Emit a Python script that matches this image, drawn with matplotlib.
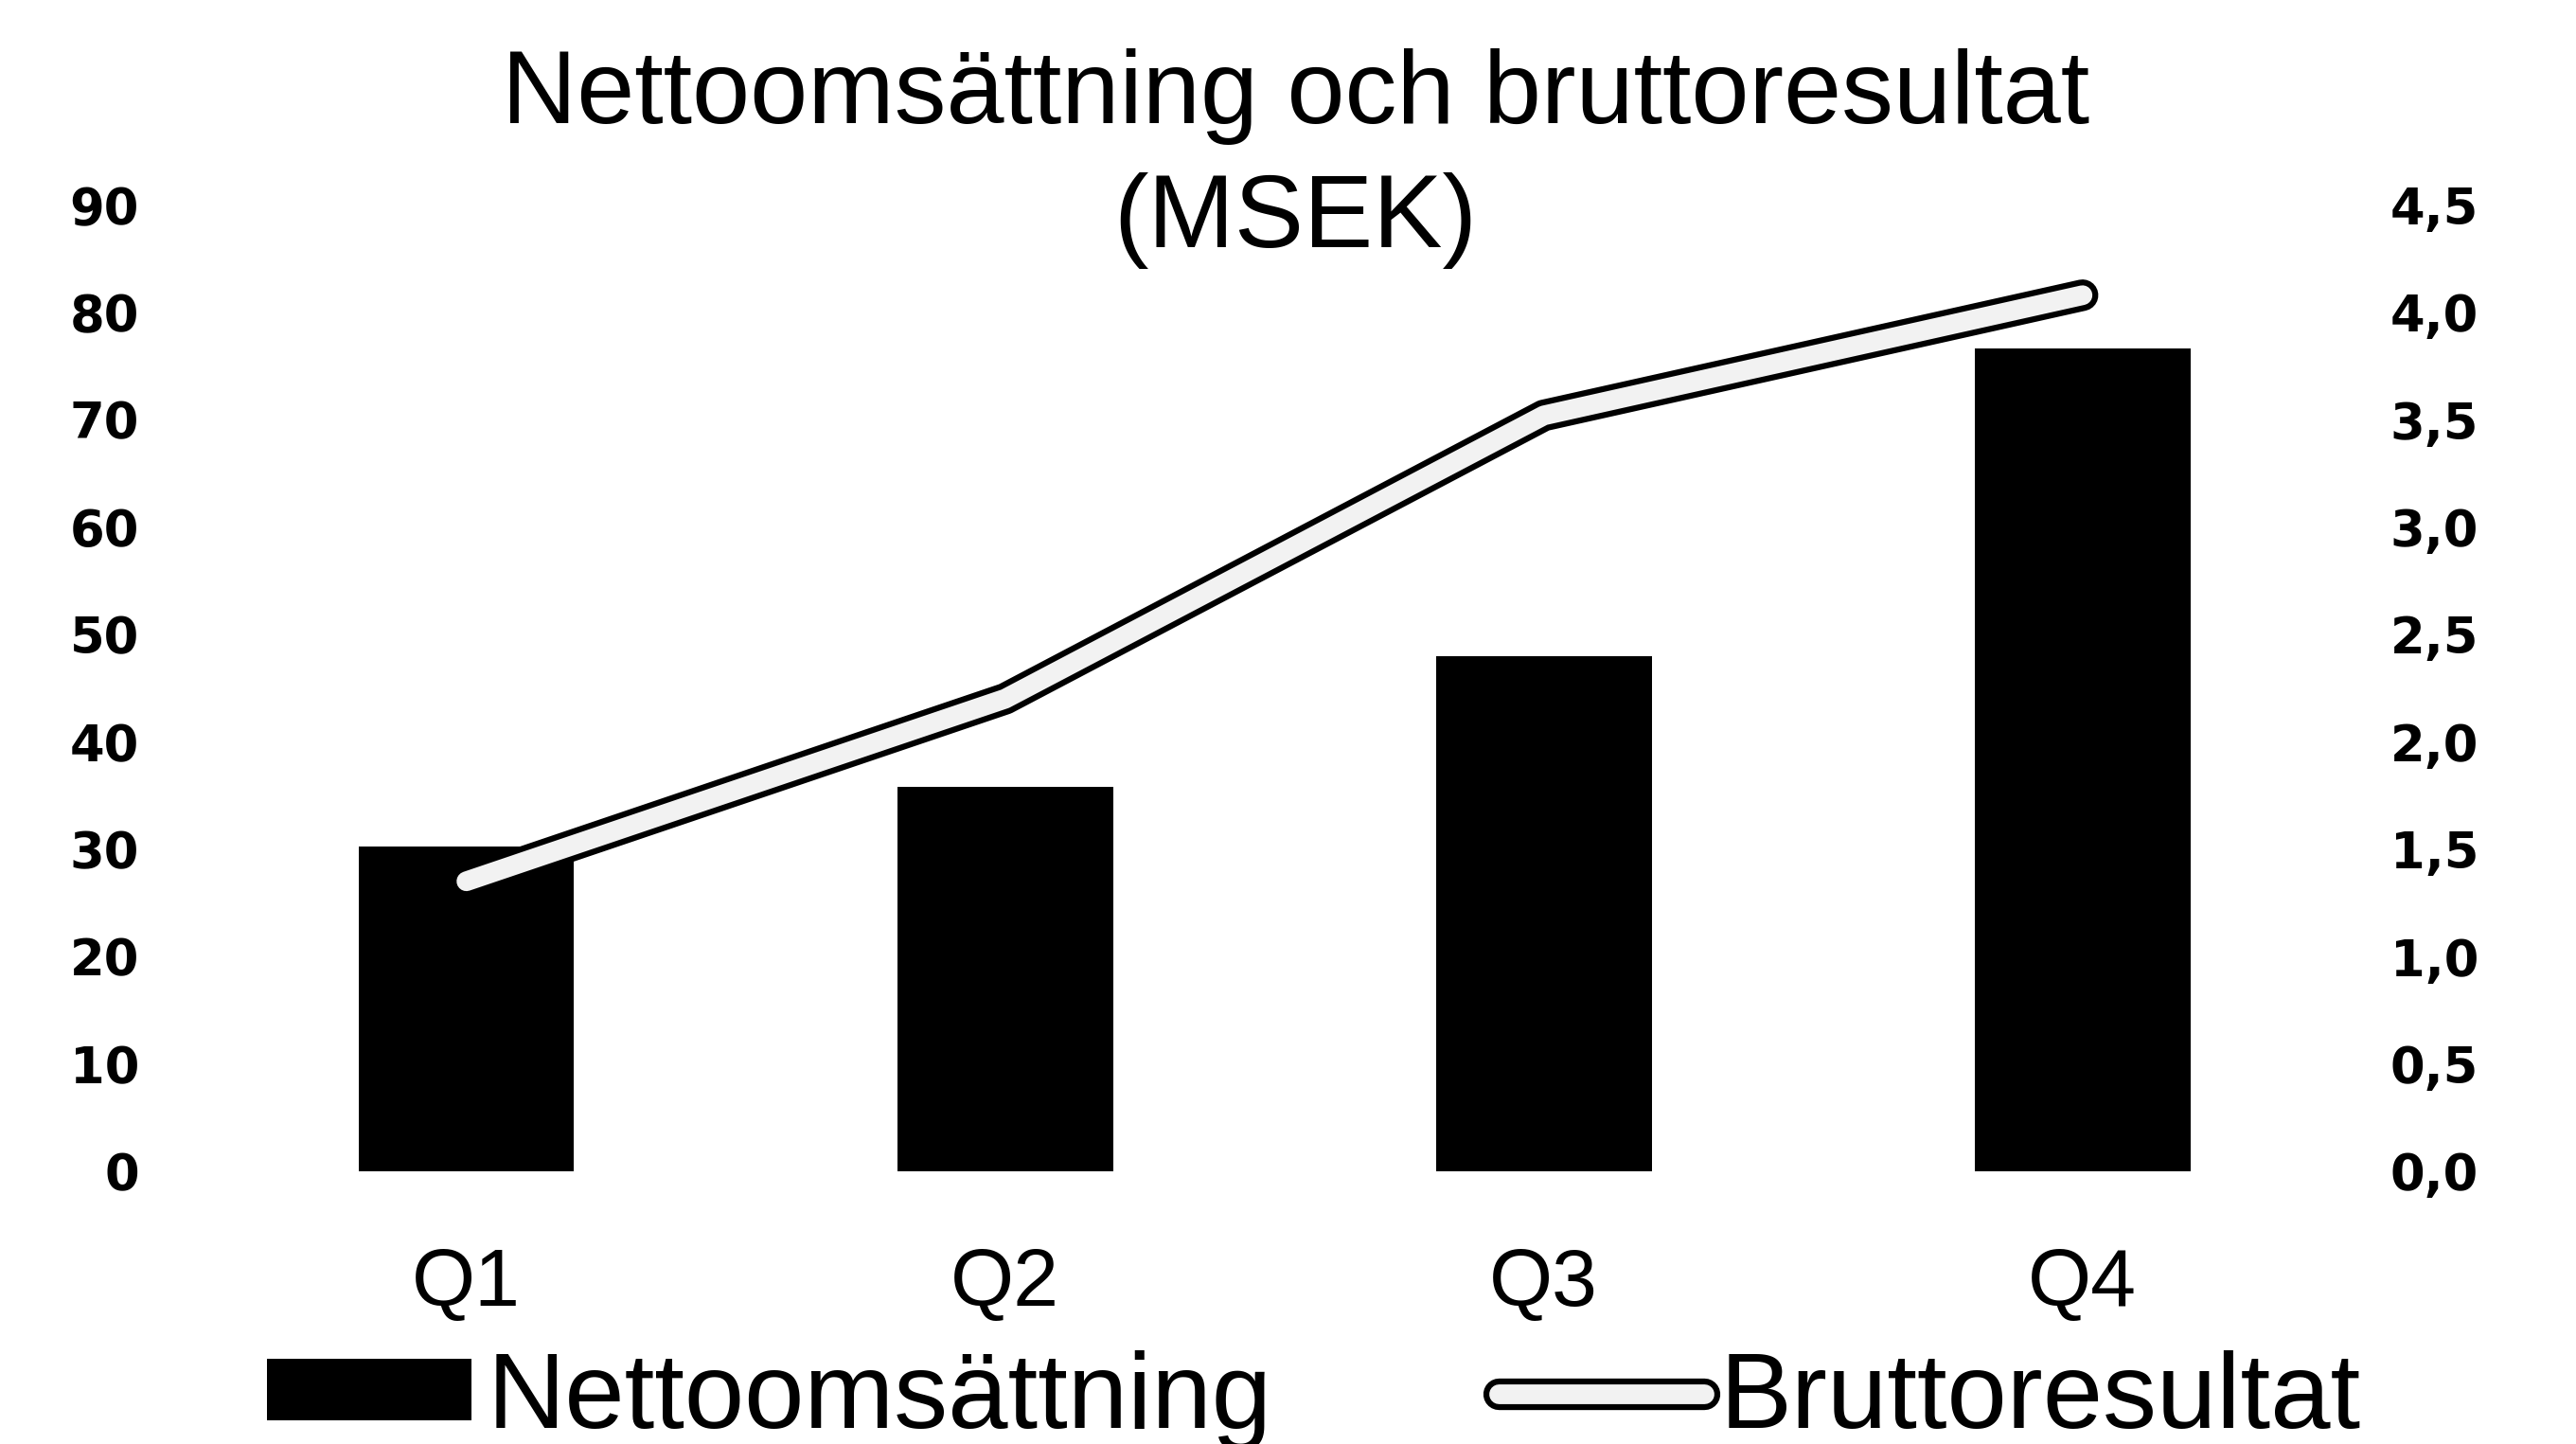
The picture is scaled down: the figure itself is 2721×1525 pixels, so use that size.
import numpy as np
import matplotlib
matplotlib.use("Agg")
import matplotlib.pyplot as plt
import matplotlib.patheffects as pe
from matplotlib.ticker import FixedLocator

plt.rcParams['font.family'] = ['Liberation Sans', 'DejaVu Sans']

# data
quarters = ['Q1', 'Q2', 'Q3', 'Q4']
nettoomsattning = [30.2, 35.8, 48.0, 76.6]   # MSEK, left axis
bruttoresultat = [1.35, 2.20, 3.52, 4.08]    # MSEK, right axis
left_ticks = [0, 10, 20, 30, 40, 50, 60, 70, 80, 90]
right_ticks = [0.0, 0.5, 1.0, 1.5, 2.0, 2.5, 3.0, 3.5, 4.0, 4.5]

fig = plt.figure(figsize=(27.21, 15.25), dpi=100)
ax = fig.add_axes([0.0765, 0.189, 0.8365, 0.669])
ax2 = ax.twinx()

x = np.arange(len(quarters))
bars = ax.bar(x, nettoomsattning, width=0.4, color='black', label='Nettoomsättning', zorder=2)

line, = ax2.plot(x, bruttoresultat, color='#f2f2f2', lw=15, solid_capstyle='round',
                 solid_joinstyle='round', label='Bruttoresultat', zorder=3,
                 path_effects=[pe.Stroke(linewidth=24, foreground='black', capstyle='round', joinstyle='round'),
                               pe.Normal()])
ax.set_zorder(1)
ax2.set_zorder(2)
ax2.patch.set_visible(False)

ax.set_xlim(-0.5, len(quarters) - 0.5)
ax.set_ylim(0, 90)
ax2.set_ylim(0, 4.5)
ax.yaxis.set_major_locator(FixedLocator(left_ticks))
ax2.yaxis.set_major_locator(FixedLocator(right_ticks))
ax2.set_yticklabels([f"{v:.1f}".replace('.', ',') for v in right_ticks])
ax.set_xticks(x)
ax.set_xticklabels(quarters)

for a in (ax, ax2):
    for s in a.spines.values():
        s.set_visible(False)
ax.tick_params(axis='y', length=0, pad=44, labelsize=38)
ax2.tick_params(axis='y', length=0, pad=29, labelsize=38)
ax.tick_params(axis='x', length=0, pad=58, labelsize=62)
for lab in ax.get_yticklabels() + ax2.get_yticklabels():
    lab.set_family('DejaVu Sans')
    lab.set_weight('bold')

fig.text(0.503, 0.915, 'Nettoomsättning och bruttoresultat', ha='center', va='baseline', fontsize=79)
fig.text(0.503, 0.829, '(MSEK)', ha='center', va='baseline', fontsize=79)

fig.legend(handles=[bars, line], loc='lower center', bbox_to_anchor=(0.51, -0.072), ncol=2,
           frameon=False, fontsize=82, handlelength=1.9, handleheight=0.5,
           handletextpad=0.15, columnspacing=2.1)

fig.savefig('out.png', dpi=100)
